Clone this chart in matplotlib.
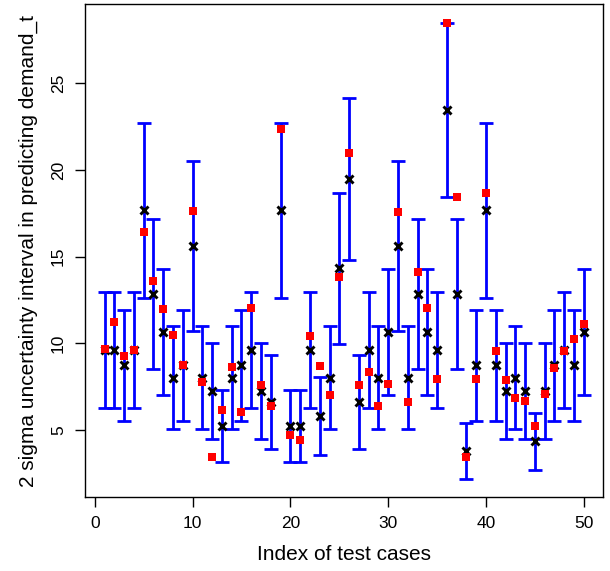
import matplotlib
matplotlib.use("Agg")
import matplotlib.pyplot as plt
import numpy as np

plt.rcParams['font.family'] = ['Liberation Sans', 'DejaVu Sans']

index = list(range(1, 51))

# predicted value (black x)
pred = [9.62, 9.62, 8.73, 9.62, 17.67, 12.83, 10.65, 8.0, 8.73, 15.62,
        8.0, 7.27, 5.23, 8.0, 8.73, 9.62, 7.27, 6.6, 17.67, 5.23,
        5.23, 9.62, 5.8, 8.0, 14.33, 19.46, 6.6, 9.62, 8.0, 10.65,
        15.62, 8.0, 12.83, 10.65, 9.62, 23.46, 12.83, 3.78, 8.73, 17.67,
        8.73, 7.27, 8.0, 7.27, 4.35, 7.27, 8.73, 9.62, 8.73, 10.65]

# half width of the 2 sigma interval (blue bars)
half = [3.35, 3.35, 3.2, 3.35, 5.03, 4.33, 3.65, 2.97, 3.2, 4.9,
        2.97, 2.77, 2.05, 2.97, 3.2, 3.35, 2.77, 2.72, 5.03, 2.05,
        2.05, 3.35, 2.27, 2.97, 4.36, 4.68, 2.72, 3.35, 2.97, 3.65,
        4.9, 2.97, 4.33, 3.65, 3.35, 5.0, 4.33, 1.6, 3.2, 5.03,
        3.2, 2.77, 2.97, 2.77, 1.63, 2.77, 3.2, 3.35, 3.2, 3.65]

# actual value (red squares)
actual = [9.65, 11.2, 9.27, 9.6, 16.39, 13.57, 11.97, 10.46, 8.75, 17.63,
          7.76, 3.42, 6.18, 8.61, 6.04, 12.03, 7.61, 6.37, 22.37, 4.73,
          4.44, 10.41, 8.69, 7.03, 13.82, 20.99, 7.57, 8.34, 6.37, 7.63,
          17.6, 6.64, 14.14, 12.03, 7.97, 28.46, 18.42, 3.44, 7.97, 18.67,
          9.54, 7.88, 6.83, 6.68, 5.21, 7.07, 8.59, 9.58, 10.25, 11.12]

xticks = [0, 10, 20, 30, 40, 50]
yticks = [5, 10, 15, 20, 25]

fig = plt.figure(figsize=(6.10, 5.71), dpi=100)
ax = fig.add_axes([0.140, 0.130, 0.8485, 0.8625])

ax.errorbar(index, pred, yerr=half, fmt='none', ecolor='#0000FF',
            elinewidth=2.0, capsize=4.7, capthick=2.0, zorder=2)
ax.plot(index, pred, linestyle='none', marker='x', color='black',
        markersize=6.2, markeredgewidth=2.1, zorder=3)
ax.plot(index, actual, linestyle='none', marker='s', color='#FF0000',
        markersize=5.5, markeredgewidth=0, zorder=4)

ax.set_xlim(-0.96, 51.96)
ax.set_ylim(1.15, 29.55)
ax.set_xticks(xticks)
ax.set_yticks(yticks)
ax.tick_params(axis='both', direction='out', length=7, width=1.0,
               labelsize=12.5, color='black')
ax.tick_params(axis='x', pad=7)
ax.tick_params(axis='y', pad=7)
for lab in ax.get_yticklabels():
    lab.set_rotation(90)
    lab.set_va('center')

for s in ax.spines.values():
    s.set_linewidth(1.0)
    s.set_color('black')

ax.set_xlabel('Index of test cases', fontsize=15, labelpad=10)
ax.set_ylabel('2 sigma uncertainty interval in predicting demand_t',
              fontsize=15, labelpad=9)

fig.savefig('out.png', dpi=100)
